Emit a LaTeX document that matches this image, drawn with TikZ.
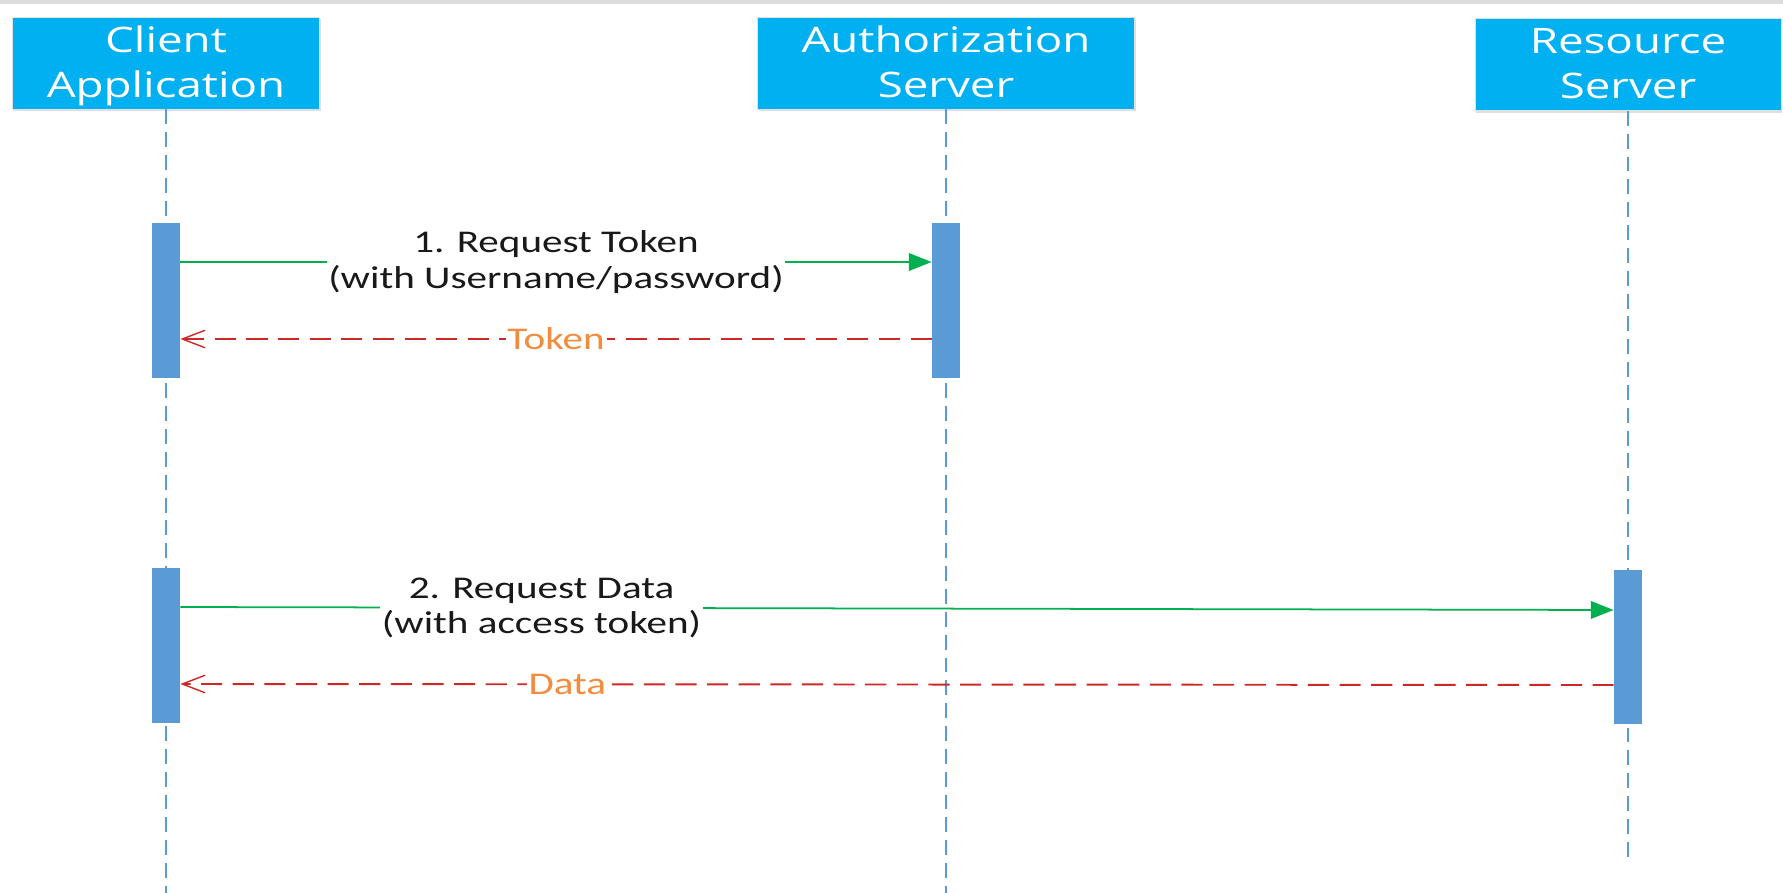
\documentclass[tikz,border=0pt]{standalone}
\usepackage{fontspec}
\usetikzlibrary{arrows.meta,shadows}
\newfontfamily\headfont[FakeStretch=1.3]{Open Sans}
\newfontfamily\msgfont[FakeStretch=1.3]{Carlito}
\definecolor{headblue}{RGB}{0,176,240}
\definecolor{barblue}{RGB}{91,155,213}
\definecolor{reqgreen}{RGB}{0,176,80}
\definecolor{retred}{RGB}{204,40,40}
\definecolor{retorange}{RGB}{243,140,62}
\definecolor{topgray}{RGB}{221,221,221}
\tikzset{
  head/.style = {rectangle, fill=headblue, draw=black!12, text=white,
                 minimum width=#1, minimum height=1.84cm, inner sep=0pt,
                 text depth=1pt, align=center,
                 font=\headfont\fontsize{20}{25.6}\selectfont,
                 drop shadow={shadow xshift=0.6pt, shadow yshift=-1.2pt, opacity=0.25}},
  head/.default = 6.14cm,
  bar/.style = {rectangle, fill=barblue, minimum width=0.56cm,
                minimum height=3.1cm, inner sep=0pt},
  life/.style = {draw=barblue, line width=1.1pt, dash pattern=on 8.5pt off 4.5pt},
  req/.style = {draw=reqgreen, line width=1pt, -{Triangle[length=13pt,width=10pt]}},
  ret/.style = {draw=retred, line width=1.1pt, dash pattern=on 12pt off 6pt,
                -{Straight Barb[length=13pt,width=10pt,line width=0.8pt]}},
  msg/.style = {fill=white, inner sep=1pt, align=center, text=black!90,
                font=\msgfont\fontsize{18}{20}\selectfont},
  retmsg/.style = {msg, text=retorange}
}

\begin{document}
\begin{tikzpicture}[x=0.02cm, y=-0.02cm]
	\def \lifeend{893}
	\def \resend{858}
	
	\useasboundingbox (0,0) rectangle (1783,893);
	\fill[topgray] (0,0) rectangle (1783,4);
	
	% Heads
	\node[head=6.14cm] (cli) at (166,63) {Client\\Application};
	\node[head=7.54cm] (auth) at (946,63) {Authorization\\Server};
	\node[head=6.12cm] (res) at (1628,64.5) {Resource\\Server};
	
	% Lifelines
	\draw[life] (cli.south)  -- (cli.south |- 0,\lifeend);
	\draw[life] (auth.south) -- (auth.south |- 0,\lifeend);
	\draw[life] (res.south)  -- (res.south |- 0,\resend);
	
	% Activation bars
	\node[bar] (cbar1) at (166,300.5) {};
	\node[bar] (abar)  at (946,300.5) {};
	\node[bar] (cbar2) at (166,645.5) {};
	\node[bar] (rbar)  at (1628,647) {};
	
	% Messages
	\draw[req] (cbar1.east |- 0,262) -- node[msg] {1. Request Token\\(with Username/password)} (abar.west |- 0,262);
	\draw[ret] (abar.west |- 0,339) -- node[retmsg] {Token} (cbar1.east |- 0,339);
	\draw[req] (cbar2.east |- 0,607) -- node[msg, pos=0.252] {2. Request Data\\(with access token)} (rbar.west |- 0,610);
	\draw[ret] (rbar.west |- 0,685) -- node[retmsg, pos=0.73] {Data} (cbar2.east |- 0,684);
	
\end{tikzpicture}
\end{document}
